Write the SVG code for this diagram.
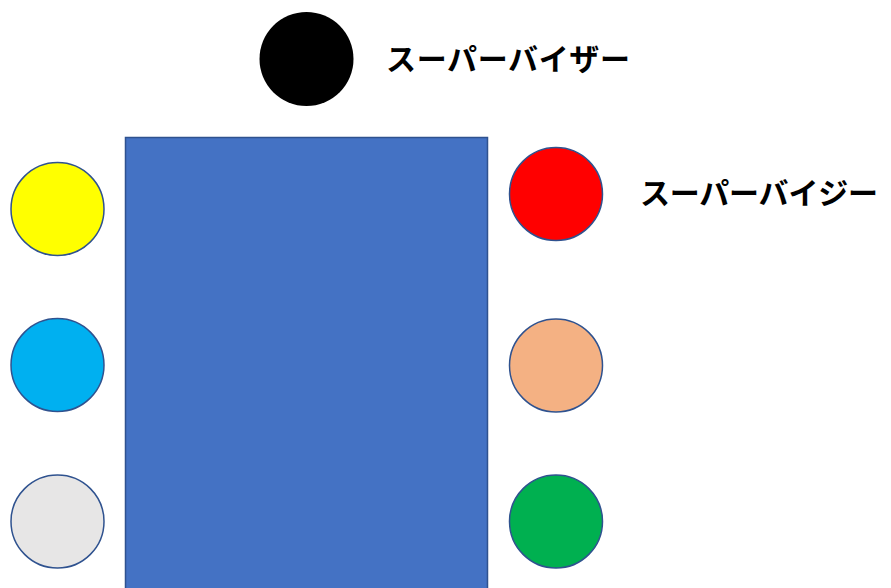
<svg xmlns="http://www.w3.org/2000/svg" width="891" height="588" viewBox="0 0 891 588">
<style>
.c{stroke:#2F528F;stroke-width:1.5}
.t{font-family:"Noto Sans CJK JP","Noto Sans",sans-serif;font-weight:bold;font-size:30px;fill:#000}
</style>
<rect width="891" height="588" fill="#fff"/>
<g id="table"><rect x="125.5" y="137.5" width="362" height="460" fill="#4472C4" stroke="#2F528F" stroke-width="1.5"/></g>
<g id="supervisor"><circle cx="306.5" cy="59" r="47" fill="#000"/><text class="t" x="386" y="70" textLength="244" lengthAdjust="spacing">スーパーバイザー</text></g>
<g id="supervisee"><circle class="c" cx="556" cy="194" r="46.5" fill="#FF0000"/><text class="t" x="640" y="204" textLength="238" lengthAdjust="spacing">スーパーバイジー</text></g>
<g id="yellow"><circle class="c" cx="57.5" cy="209" r="46.5" fill="#FFFF00"/></g>
<g id="lightblue"><circle class="c" cx="57.5" cy="365" r="46.5" fill="#00B0F0"/></g>
<g id="gray"><circle class="c" cx="57.5" cy="521.5" r="46.5" fill="#E7E6E6"/></g>
<g id="peach"><circle class="c" cx="556" cy="365.5" r="46.5" fill="#F4B183"/></g>
<g id="green"><circle class="c" cx="556" cy="521.5" r="46.5" fill="#00B050"/></g>
<g id="connectors"/>
</svg>
